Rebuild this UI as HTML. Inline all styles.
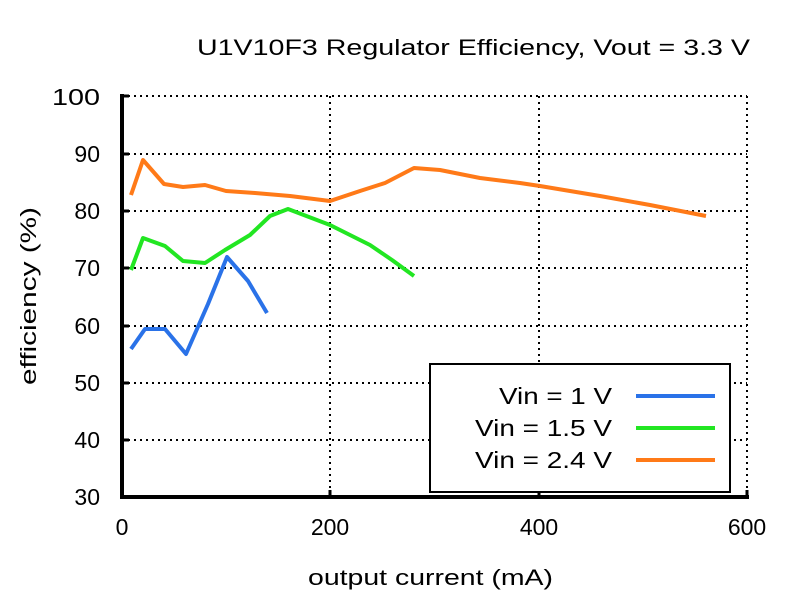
<!DOCTYPE html>
<html><head><style>body{margin:0;background:#fff}svg{display:block}text{font-family:"Liberation Sans",sans-serif;fill:#000}</style></head><body>
<svg width="800" height="600" viewBox="0 0 800 600">
<g stroke="#000" stroke-width="2" stroke-dasharray="2,4">
<line x1="122" y1="96" x2="747" y2="96"/><line x1="122" y1="154" x2="747" y2="154"/><line x1="122" y1="211" x2="747" y2="211"/><line x1="122" y1="268" x2="747" y2="268"/><line x1="122" y1="326" x2="747" y2="326"/><line x1="122" y1="383" x2="747" y2="383"/><line x1="122" y1="440" x2="747" y2="440"/>
<line x1="330" y1="96" x2="330" y2="497"/><line x1="539" y1="96" x2="539" y2="497"/><line x1="747" y1="96" x2="747" y2="497"/>
</g>
<line x1="122" y1="94" x2="122" y2="499" stroke="#000" stroke-width="4"/>
<line x1="120" y1="497" x2="749" y2="497" stroke="#000" stroke-width="4"/>
<g stroke="#000" stroke-width="3"><line x1="122" y1="96" x2="129" y2="96"/><line x1="122" y1="154" x2="129" y2="154"/><line x1="122" y1="211" x2="129" y2="211"/><line x1="122" y1="268" x2="129" y2="268"/><line x1="122" y1="326" x2="129" y2="326"/><line x1="122" y1="383" x2="129" y2="383"/><line x1="122" y1="440" x2="129" y2="440"/><line x1="330" y1="497" x2="330" y2="490"/><line x1="539" y1="497" x2="539" y2="490"/><line x1="747" y1="497" x2="747" y2="490"/></g>
<g fill="none" stroke-width="4" stroke-linejoin="round">
<polyline stroke="#ff7a18" points="131,195 143,160 164,184 183,187 205,185 226,191 255,193 290,196 330,201 360,191 385,183 414,168 440,170 480,178 520,183 540,186 600,196 650,205 706,216"/>
<polyline stroke="#22e622" points="131,270 143,238 165,246 183,261 205,263 225,250 250,235 270,216 288,209 330,225 370,245 392,260 414,276"/>
<polyline stroke="#2a72e8" points="131,349 145,329 165,329 186,354 208,304 227,257 248,281 267,313"/>
</g>
<rect x="430" y="364" width="300" height="128" fill="#fff" stroke="#000" stroke-width="2"/>
<g font-size="23" text-anchor="end"><text x="612" y="404" textLength="113" lengthAdjust="spacingAndGlyphs">Vin = 1 V</text><text x="612" y="436" textLength="137" lengthAdjust="spacingAndGlyphs">Vin = 1.5 V</text><text x="612" y="468" textLength="137" lengthAdjust="spacingAndGlyphs">Vin = 2.4 V</text></g>
<line x1="636" y1="396" x2="715" y2="396" stroke="#2a72e8" stroke-width="4"/>
<line x1="636" y1="428" x2="715" y2="428" stroke="#22e622" stroke-width="4"/>
<line x1="636" y1="460" x2="715" y2="460" stroke="#ff7a18" stroke-width="4"/>
<g font-size="23" text-anchor="end"><text x="100" y="105" textLength="48" lengthAdjust="spacingAndGlyphs">100</text><text x="100" y="162">90</text><text x="100" y="219">80</text><text x="100" y="276">70</text><text x="100" y="334">60</text><text x="100" y="391">50</text><text x="100" y="448">40</text><text x="100" y="505">30</text></g>
<g font-size="23" text-anchor="middle"><text x="122" y="535">0</text><text x="330" y="535">200</text><text x="539" y="535">400</text><text x="747" y="535">600</text></g>
<text x="308" y="585" font-size="22" textLength="245" lengthAdjust="spacingAndGlyphs">output current (mA)</text>
<text transform="translate(36,385) rotate(-90)" font-size="22" textLength="178" lengthAdjust="spacingAndGlyphs">efficiency (%)</text>
<text x="197" y="55" font-size="22" textLength="553" lengthAdjust="spacingAndGlyphs">U1V10F3 Regulator Efficiency, Vout = 3.3 V</text>
</svg></body></html>
